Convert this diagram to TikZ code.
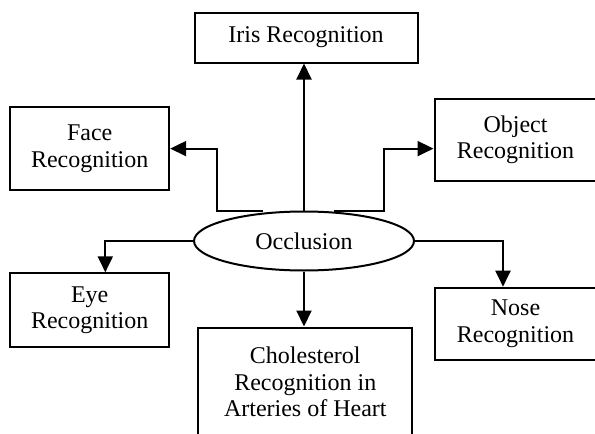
\documentclass[tikz,border=0pt]{standalone}
\usepackage{fontspec}
\setmainfont{Liberation Serif}
\usepackage{tikz}
\usetikzlibrary{calc}
\usetikzlibrary{arrows.meta}
\usetikzlibrary{shapes.geometric}
\newcommand\topicfont{\fontsize{24}{26.5}\selectfont}
\tikzset{
  topic/.style={draw,line width=2pt,align=center,inner sep=0pt,font=\topicfont},
  link/.style={line width=2pt,-{Triangle[width=15pt,length=16pt]}},
}

\begin{document}
\begin{tikzpicture}[x=1pt,y=-1pt]
\useasboundingbox (0,0) rectangle (595,434);
\node[topic,ellipse,minimum width=220pt,minimum height=59pt] (occlusion) at (304,241) {Occlusion};
\node[topic,minimum width=223pt,minimum height=50pt] (iris) at (306,37.5) {Iris Recognition};
\node[topic,minimum width=159pt,minimum height=83pt] (face) at (89.7,148.6) {Face\\Recognition};
\node[topic,minimum width=162pt,minimum height=82pt] (object) at (515.5,140) {Object\\Recognition};
\node[topic,minimum width=159pt,minimum height=74pt] (eye) at (89.7,310.3) {Eye\\Recognition};
\node[topic,minimum width=214pt,minimum height=109pt] (cholesterol) at (305.3,382) {Cholesterol\\Recognition in\\Arteries of Heart};
\node[topic,minimum width=162pt,minimum height=72pt] (nose) at (515.5,323.7) {Nose\\Recognition};
\draw[link] (occlusion.north) -- (occlusion.north |- iris.south);
\draw[link] ($(occlusion.north)+(-41,0.5)$) -- ++(-46.5,0) |- (face.east);
\draw[link] ($(occlusion.north)+(30,0.5)$) -- ++(50,0) |- (object.west |- face.east);
\draw[link] (occlusion.west) -| ($(eye.north)+(15.6,0)$);
\draw[link] (occlusion.east) -| ($(nose.north)+(-12.5,0)$);
\draw[link] (occlusion.south) -- (occlusion.south |- cholesterol.north);
\end{tikzpicture}
\end{document}
